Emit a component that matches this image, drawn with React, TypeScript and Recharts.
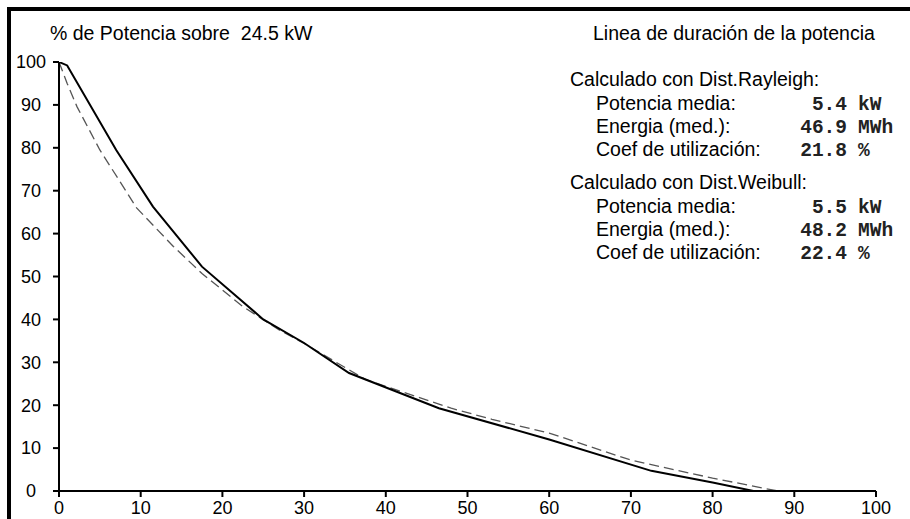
import { LineChart, Line, XAxis, YAxis } from 'recharts';

// Curva de duración (eje x: % del tiempo, eje y: % de potencia)
const rayleighX = [0, 1, 7, 11.5, 17.5, 25, 30, 35.5, 46.5, 60, 72.5, 80, 85];
const rayleighY = [100, 99.2, 79.5, 66.3, 52.3, 40, 34.5, 27.5, 19.3, 12, 4.7, 2, 0];

const weibullX = [0, 1, 2.2, 5, 9.5, 14, 17.5, 22.5, 27, 30, 37.5, 48, 53, 60, 70, 80, 88];
const weibullY = [100, 95, 89.6, 79.5, 66, 57, 50.7, 43, 37.5, 34.4, 26, 19.3, 16.7, 13.5, 7.2, 3, 0];

const xTicks = [0, 10, 20, 30, 40, 50, 60, 70, 80, 90, 100];
const yTicks = [0, 10, 20, 30, 40, 50, 60, 70, 80, 90, 100];

const statLabels = ['Potencia media:', 'Energia (med.):', 'Coef de utilización:'];
const statUnits = ['kW', 'MWh', '%'];
const rayleighStats = ['5.4', '46.9', '21.8'];
const weibullStats = ['5.5', '48.2', '22.4'];

const rayleighData = rayleighX.map((x, i) => ({ x, y: rayleighY[i] }));
const weibullData = weibullX.map((x, i) => ({ x, y: weibullY[i] }));

const SANS = '"Liberation Sans", Arial, sans-serif';
const MONO = '"Liberation Mono", "Courier New", monospace';

function YTick({ x, y, payload }: any) {
  return (
    <text x={x - 20} y={y} dy="0.35em" textAnchor="middle" fontSize={18} fontFamily={SANS} fill="#000">
      {payload.value}
    </text>
  );
}

function XTick({ x, y, payload }: any) {
  return (
    <text x={x} y={y} dy="0.71em" textAnchor="middle" fontSize={18} fontFamily={SANS} fill="#000">
      {payload.value}
    </text>
  );
}

function StatBlock({ title, values, top }: { title: string; values: string[]; top: number }) {
  return (
    <g>
      <text x={570} y={top} fontSize={19.5} fontFamily={SANS}>{title}</text>
      {statLabels.map((label, i) => {
        const y = top + 24 + i * 23.3;
        return (
          <g key={label}>
            <text x={596} y={y} fontSize={19.5} fontFamily={SANS}>{label}</text>
            <text x={847} y={y} fontSize={19.5} fontFamily={MONO} fontWeight="bold" textAnchor="end" fill="#222">
              {values[i]}
            </text>
            <text x={858} y={y} fontSize={19.5} fontFamily={MONO} fontWeight="bold" fill="#222">
              {statUnits[i]}
            </text>
          </g>
        );
      })}
    </g>
  );
}

export default function App() {
  return (
    <div style={{ position: 'absolute', left: 0, top: 0, width: 910, height: 519, overflow: 'hidden', background: '#fff' }}>
      {/* marco */}
      <div
        style={{
          position: 'absolute',
          left: 7,
          top: 7,
          width: 920,
          height: 530,
          borderTop: '4px solid #000',
          borderLeft: '4px solid #000',
        }}
      />
      <div style={{ position: 'absolute', left: 0, top: 0 }}>
        <LineChart width={910} height={519} margin={{ top: 62, right: 34, bottom: 0, left: 9 }}>
          <XAxis
            type="number"
            dataKey="x"
            domain={[0, 100]}
            ticks={xTicks}
            interval={0}
            allowDataOverflow
            height={28}
            tickSize={6}
            tickMargin={4}
            stroke="#000"
            strokeWidth={2}
            tick={<XTick />}
          />
          <YAxis
            type="number"
            dataKey="y"
            domain={[0, 100]}
            ticks={yTicks}
            interval={0}
            allowDataOverflow
            width={50}
            tickSize={6}
            tickMargin={2}
            stroke="#000"
            strokeWidth={2}
            tick={<YTick />}
          />
          <Line
            data={weibullData}
            dataKey="y"
            type="linear"
            stroke="#555"
            strokeWidth={1.3}
            strokeDasharray="10 5"
            dot={false}
            isAnimationActive={false}
          />
          <Line
            data={rayleighData}
            dataKey="y"
            type="linear"
            stroke="#000"
            strokeWidth={2}
            dot={false}
            isAnimationActive={false}
          />
        </LineChart>
      </div>
      <svg width={910} height={519} style={{ position: 'absolute', left: 0, top: 0, pointerEvents: 'none' }}>
        <text x={50} y={40} fontSize={19.5} fontFamily={SANS} style={{ whiteSpace: 'pre' }}>
          {'% de Potencia sobre  24.5 kW'}
        </text>
        <text x={593} y={40} fontSize={19.5} fontFamily={SANS}>Linea de duración de la potencia</text>
        <StatBlock title="Calculado con Dist.Rayleigh:" values={rayleighStats} top={85.5} />
        <StatBlock title="Calculado con Dist.Weibull:" values={weibullStats} top={188.5} />
      </svg>
    </div>
  );
}
